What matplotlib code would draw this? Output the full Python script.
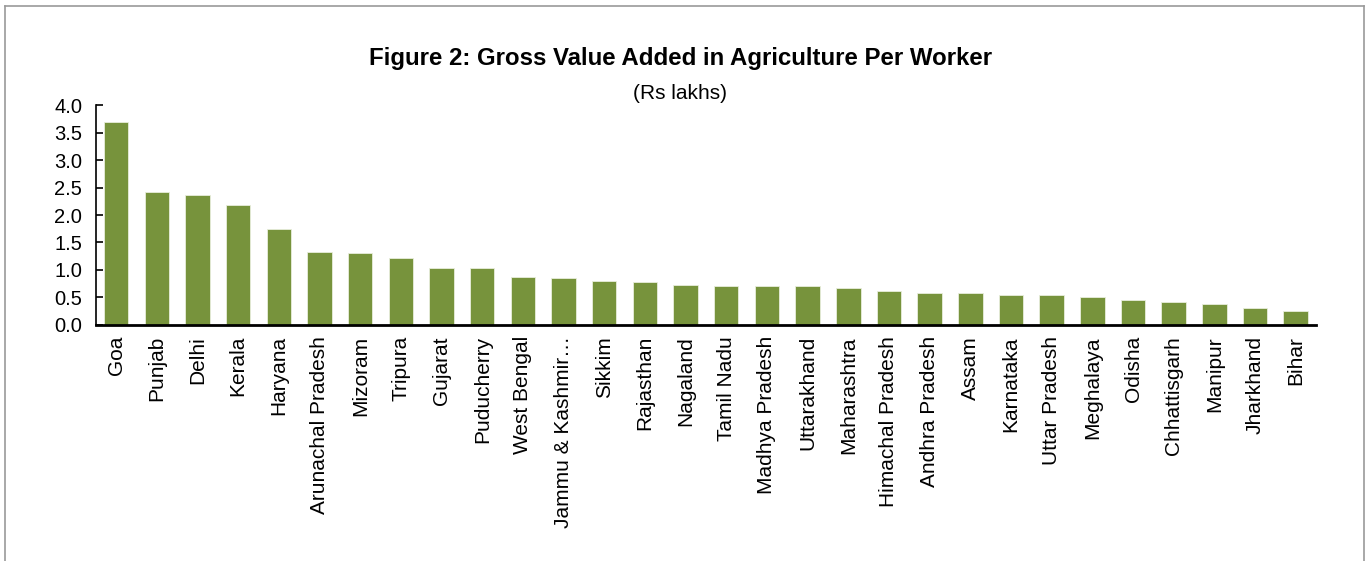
import matplotlib
matplotlib.use("Agg")
import matplotlib.pyplot as plt
from matplotlib.lines import Line2D

plt.rcParams['font.family'] = ['Liberation Sans', 'DejaVu Sans']

states = ["Goa", "Punjab", "Delhi", "Kerala", "Haryana", "Arunachal Pradesh",
          "Mizoram", "Tripura", "Gujarat", "Puducherry", "West Bengal",
          "Jammu & Kashmir…", "Sikkim", "Rajasthan", "Nagaland", "Tamil Nadu",
          "Madhya Pradesh", "Uttarakhand", "Maharashtra", "Himachal Pradesh",
          "Andhra Pradesh", "Assam", "Karnataka", "Uttar Pradesh", "Meghalaya",
          "Odisha", "Chhattisgarh", "Manipur", "Jharkhand", "Bihar"]
values = [3.70, 2.41, 2.36, 2.19, 1.74, 1.32, 1.30, 1.21, 1.04, 1.03, 0.87,
          0.85, 0.80, 0.78, 0.72, 0.71, 0.70, 0.70, 0.68, 0.61, 0.59, 0.58,
          0.55, 0.54, 0.51, 0.45, 0.41, 0.39, 0.31, 0.26]
yticks = [0.0, 0.5, 1.0, 1.5, 2.0, 2.5, 3.0, 3.5, 4.0]

fig = plt.figure(figsize=(13.7, 5.61), dpi=100)
ax = fig.add_axes([0.0700, 0.4207, 0.8906, 0.3921])

x = list(range(len(states)))
ax.bar(x, values, width=0.6, color="#77933C", edgecolor="#E8EEDC", linewidth=0.6)
ax.set_xlim(-0.5, len(states) - 0.5)
ax.set_ylim(0, 4.0)
ax.set_yticks(yticks)
ax.set_yticklabels([f"{v:.1f}" for v in yticks], fontsize=14.5)
ax.set_xticks(x)
ax.set_xticklabels(states, rotation=90, fontsize=15)
ax.tick_params(axis='y', direction='in', length=5, width=1.2, pad=10)
ax.tick_params(axis='x', length=0, pad=8)
for s in ['top', 'right']:
    ax.spines[s].set_visible(False)
ax.spines['left'].set_linewidth(1.2)
ax.spines['bottom'].set_linewidth(2)

fig.text(0.4964, 0.8966, "Figure 2: Gross Value Added in Agriculture Per Worker",
         ha='center', va='center', fontsize=17.3, fontweight='bold')
fig.text(0.4967, 0.834, "(Rs lakhs)", ha='center', va='center', fontsize=15)

# figure border (open at bottom)
c = "#9A9A9A"
fig.add_artist(Line2D([0.0036, 0.0036], [0, 0.9893], transform=fig.transFigure, color=c, lw=1.2))
fig.add_artist(Line2D([0.0036, 0.9953], [0.9893, 0.9893], transform=fig.transFigure, color=c, lw=1.2))
fig.add_artist(Line2D([0.9953, 0.9953], [0, 0.9893], transform=fig.transFigure, color=c, lw=1.2))

fig.savefig("out.png", dpi=100)
